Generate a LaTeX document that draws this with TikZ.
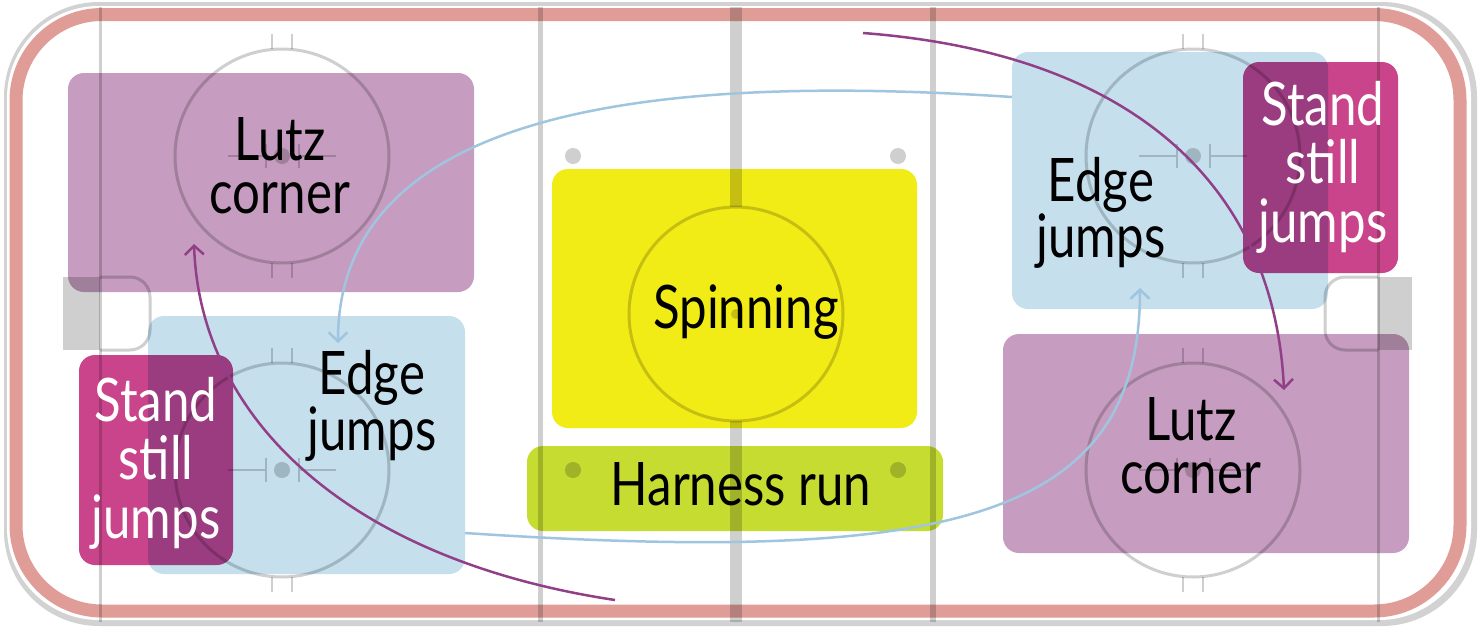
\documentclass[tikz,border=0pt]{standalone}
\usepackage{fontspec}
\setmainfont{Lato}[FakeStretch=0.82]
\usetikzlibrary{arrows.meta,positioning}
\definecolor{boardgray}{RGB}{210,210,210}
\definecolor{rinkred}{RGB}{224,157,152}
\definecolor{rinkgray}{RGB}{207,207,207}
\definecolor{lutzpurple}{RGB}{198,157,192}
\definecolor{edgeblue}{RGB}{197,223,237}
\definecolor{standpink}{RGB}{201,68,138}
\definecolor{spinyellow}{RGB}{242,236,22}
\definecolor{harnessgreen}{RGB}{198,220,49}
\definecolor{flowpurple}{RGB}{145,63,135}
\definecolor{flowblue}{RGB}{160,197,222}

\begin{document}
\begin{tikzpicture}
  [
    x=1pt, y=-1pt,
    rinkline/.style={draw=rinkgray, line width=3pt},
    word/.style={font=\fontsize{60}{53}\selectfont, align=center, anchor=base, inner sep=0pt},
    standword/.style={word, text=white, font=\fontsize{60}{58.5}\selectfont},
    flow/.style={line width=2.5pt, -{Straight Barb[length=9pt,width=19pt]}},
  ]
  \useasboundingbox (0,0) rectangle (1483,627);
  % boards
  \fill[boardgray, rounded corners=95] (4,2) rectangle (1477,626);
  \fill[white, rounded corners=92] (7,6) rectangle (1471,620);
  \draw[rinkred, line width=13pt, rounded corners=86] (16,14.5) rectangle (1460,611);

  \begin{scope}[blend mode=multiply]
    % goal lines, blue lines
    \draw[rinkline] (100,7) -- (100,622);
    \draw[rinkline] (1378,7) -- (1378,622);
    \draw[rinkline, line width=5pt] (540,7) -- (540,622);
    \draw[rinkline, line width=6pt] (933,7) -- (933,622);
    % centre line, broken by the circle
    \draw[rinkline, line width=12pt] (736,7) -- (736,207) (736,421) -- (736,622);
    \draw[rinkline] (736,314) circle[radius=107];
    \fill[rinkgray] (736,314) circle[radius=5];
    % nets and creases
    \fill[rinkgray] (63,277) rectangle (100,350);
    \fill[rinkgray] (1378,277) rectangle (1412,350);
    \draw[rinkline, rounded corners=20] (100,277) -- (150,277) -- (150,350) -- (100,350);
    \draw[rinkline, rounded corners=20] (1378,277) -- (1325,277) -- (1325,350) -- (1378,350);
    % faceoff circles
    \foreach \cx/\cy in {282/156, 282/470, 1193/156, 1193/470} {
      \draw[rinkline] (\cx,\cy) circle[radius=107];
      \fill[rinkgray] (\cx,\cy) circle[radius=8];
      \draw[rinkline, line width=2.5pt]
        (\cx-10,\cy-107) -- (\cx-10,\cy-122) (\cx+10,\cy-107) -- (\cx+10,\cy-122)
        (\cx-10,\cy+107) -- (\cx-10,\cy+122) (\cx+10,\cy+107) -- (\cx+10,\cy+122);
      \draw[rinkline, line width=2pt]
        (\cx-54,\cy) -- (\cx-16,\cy) (\cx-16,\cy-12) -- (\cx-16,\cy+12)
        (\cx+54,\cy) -- (\cx+17,\cy) (\cx+17,\cy-12) -- (\cx+17,\cy+12);
    }
    \foreach \dx in {573, 898}
      \foreach \dy in {156, 470}
        \fill[rinkgray] (\dx,\dy) circle[radius=8];
  \end{scope}

  % training zones
  \begin{scope}[blend mode=multiply, rounded corners=16]
    \fill[lutzpurple] (68,73) rectangle (474,292);
    \fill[edgeblue] (148,316) rectangle (465,574);
    \fill[standpink] (79,355) rectangle (233,565);
    \fill[spinyellow] (552,169) rectangle (917,428);
    \fill[harnessgreen] (527,446) rectangle (943,531);
    \fill[edgeblue] (1012,52) rectangle (1328,309);
    \fill[standpink] (1243,62) rectangle (1398,273);
    \fill[lutzpurple] (1003,334) rectangle (1409,553);
  \end{scope}

  % base anchor sits on the last line
  \node[word] (lutzL) at (280,213) {Lutz\\corner};
  \node[word] (edgeL) at (372,450) {Edge\\jumps};
  \node[standword] (standL) at (156,538) {Stand\\still\\jumps};
  \node[word] (spin) at (746,328) {Spinning};
  \node[word] (harness) at (741,505) {Harness run};
  \node[word] (edgeR) at (1101,257) {Edge\\jumps};
  \node[standword] (standR) at (1323,242) {Stand\\still\\jumps};
  \node[word] (lutzR) at (1191,493) {Lutz\\corner};

  % moves between zones
  \coordinate (edgeLout) at (465,533);
  \coordinate (edgeRin) at (1140,288);
  \coordinate (edgeRout) at (1012,97);
  \coordinate (edgeLin) at (338,343);
  \coordinate (lutzRfrom) at (863,33);
  \coordinate (lutzRin) at (1284,390);
  \coordinate (lutzLfrom) at (615,600);
  \coordinate (lutzLin) at (194,244);
  \draw[flow, flowblue] (edgeLout) .. controls (950,565) and (1140,520) .. (edgeRin);
  \draw[flow, flowblue] (edgeRout) .. controls (680,75) and (338,100) .. (edgeLin);
  \draw[flow, flowpurple] (lutzRfrom) .. controls (1150,55) and (1275,200) .. (lutzRin);
  \draw[flow, flowpurple] (lutzLfrom) .. controls (350,560) and (200,420) .. (lutzLin);
\end{tikzpicture}
\end{document}
